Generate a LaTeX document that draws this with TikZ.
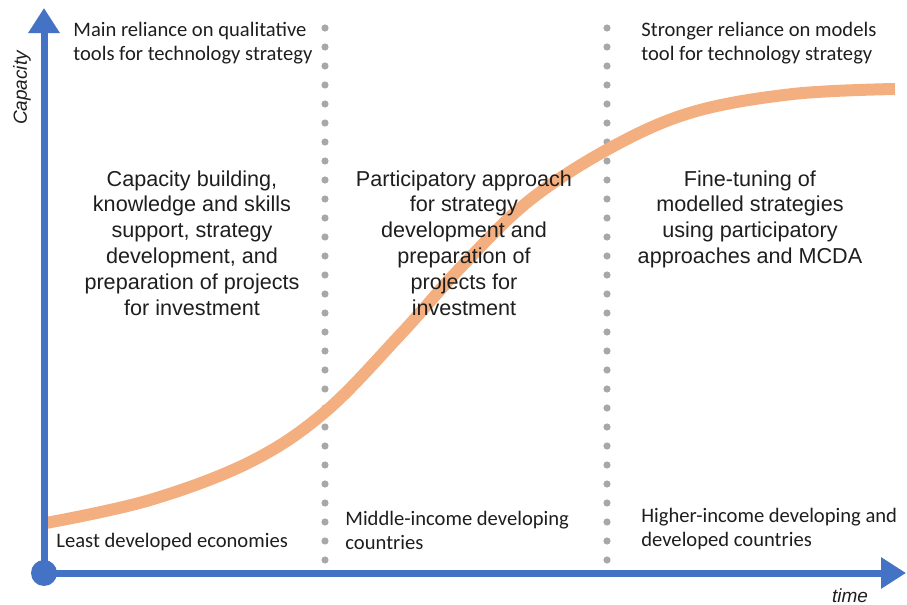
\documentclass[tikz,border=0pt]{standalone}
\usepackage{fontspec}
\setmainfont{Carlito}
\newfontfamily\arialfont{Liberation Sans}
\usetikzlibrary{arrows.meta}
\definecolor{axisblue}{RGB}{68,114,196}
\definecolor{curveorange}{RGB}{244,175,128}
\definecolor{dotgray}{RGB}{168,168,168}
\definecolor{textdark}{RGB}{30,30,30}

\begin{document}
\begin{tikzpicture}
    [
    x=0.5pt, y=-0.5pt,
    axis/.style = {axisblue, line width=3.5pt, -{Triangle[length=12.5pt,width=15pt]}},
    dot/.style = {fill=dotgray, circle, minimum size=3.6pt, inner sep=0pt},
    note/.style = {anchor=north west, inner sep=0pt, align=left, text=textdark, font=\fontsize{10.3}{12}\selectfont},
    block/.style = {anchor=north, inner sep=0pt, align=center, text=textdark, font=\arialfont\fontsize{10.8}{12.9}\selectfont},
    axlabel/.style = {inner sep=0pt, text=textdark, font=\arialfont\itshape\fontsize{9.5}{11}\selectfont}
    ]
\useasboundingbox (0,0) rectangle (907,605);

% dotted dividers between the three stages
\foreach \x in {325,607}
  \foreach \k in {0,...,28}
    \node[dot] (d-\x-\k) at (\x,28+19*\k) {};

% capacity curve
\draw[curveorange, line width=6pt] plot [smooth, tension=0.6] coordinates {
  (46,523) (150,500) (250,462) (325,412) (400,335) (463,265)
  (530,200) (612,147) (693,112) (793,94) (895,89) };

% axes
\coordinate (origin) at (44,573);
\coordinate (ytip) at (44,8);
\coordinate (xtip) at (906,573);
\draw[axis] (origin) -- (ytip);
\draw[axis] (origin) -- (xtip);
\fill[axisblue] (origin) circle (6.5pt);

\node[axlabel, rotate=90] (ylabel) at (22,88) {Capacity};
\node[axlabel] (xlabel) at (850,596) {time};

% top notes
\node[note] (topleft) at (73,22) {Main reliance on qualitative\\tools for technology strategy};
\node[note] (topright) at (641,22) {Stronger reliance on models\\tool for technology strategy};

% stage descriptions
\node[block] (blockleft) at (192,170) {Capacity building,\\knowledge and skills\\support, strategy\\development, and\\preparation of projects\\for investment};
\node[block] (blockmid) at (464,170) {Participatory approach\\for strategy\\development and\\preparation of\\projects for\\investment};
\node[block] (blockright) at (750,170) {Fine-tuning of\\modelled strategies\\using participatory\\approaches and MCDA};

% economies at the bottom
\node[note] (lowleft) at (56,533) {Least developed economies};
\node[note] (lowmid) at (345,511) {Middle-income developing\\countries};
\node[note] (lowright) at (641,508) {Higher-income developing and\\developed countries};

\end{tikzpicture}
\end{document}
